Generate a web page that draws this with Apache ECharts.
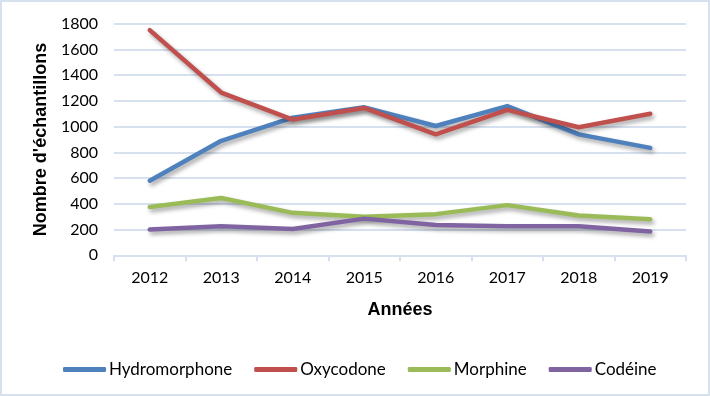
<!DOCTYPE html>
<html><head><meta charset="utf-8">
<script src="https://cdn.jsdelivr.net/npm/echarts@6/dist/echarts.min.js"></script>
<style>html,body{margin:0;padding:0;background:#fff}#c{width:710px;height:396px}</style>
</head><body><div id="c"></div>
<script>
const years = ['2012','2013','2014','2015','2016','2017','2018','2019'];
const hydromorphone = [580, 890, 1070, 1150, 1005, 1160, 940, 835];
const oxycodone = [1750, 1265, 1055, 1145, 940, 1130, 995, 1100];
const morphine = [375, 445, 330, 300, 320, 390, 310, 280];
const codeine = [200, 225, 205, 285, 235, 225, 225, 185];
const seriesNames = ['Hydromorphone','Oxycodone','Morphine','Codéine'];
const colors = ['#4f81bd','#c0504d','#9bbb59','#8064a2'];
const values = [hydromorphone, oxycodone, morphine, codeine];
const font = 'Lato, "Open Sans", sans-serif';
const boldFont = '"Liberation Sans", Arial, sans-serif';
const chart = echarts.init(document.getElementById('c'));
chart.setOption({
  animation:false,
  color: colors,
  graphic:[{type:'rect',shape:{x:1,y:1,width:708,height:394},style:{fill:'none',stroke:'#d6e0ef',lineWidth:2},silent:true}],
  grid:{left:114,right:24,top:23.7,bottom:140.7},
  legend:{
    left:58, top:356, itemWidth:43, itemHeight:5, itemGap:22, icon:'roundRect',
    textStyle:{fontFamily:font,fontSize:17,color:'#000',padding:[0,0,0,-2]},
    data: seriesNames
  },
  xAxis:{
    type:'category', data: years, boundaryGap:true,
    name:'Années', nameLocation:'middle', nameGap:46,
    nameTextStyle:{fontFamily:boldFont,fontSize:18,fontWeight:'bold',color:'#000'},
    axisLine:{lineStyle:{color:'#d6e0ef',width:2}},
    axisTick:{show:true,length:6,lineStyle:{color:'#d6e0ef',width:2}},
    axisLabel:{fontFamily:font,fontSize:16,color:'#000',margin:15}
  },
  yAxis:{
    type:'value', min:0, max:1800, interval:200,
    name:"Nombre d'échantillons", nameLocation:'middle', nameGap:62, nameRotate:90,
    nameTextStyle:{fontFamily:boldFont,fontSize:18,fontWeight:'bold',color:'#000'},
    axisLine:{show:false}, axisTick:{show:false},
    splitLine:{lineStyle:{color:'#d6e0ef',width:2}},
    axisLabel:{fontFamily:font,fontSize:16,color:'#000',margin:16,formatter:v=>String(v)}
  },
  series: seriesNames.map((n,i)=>({
    name:n, type:'line', data: values[i], symbol:'none',
    lineStyle:{width:4.5,color:colors[i],shadowColor:'rgba(0,0,0,0.35)',shadowBlur:4,shadowOffsetX:2,shadowOffsetY:3,cap:'round',join:'round'}
  }))
});
</script></body></html>
